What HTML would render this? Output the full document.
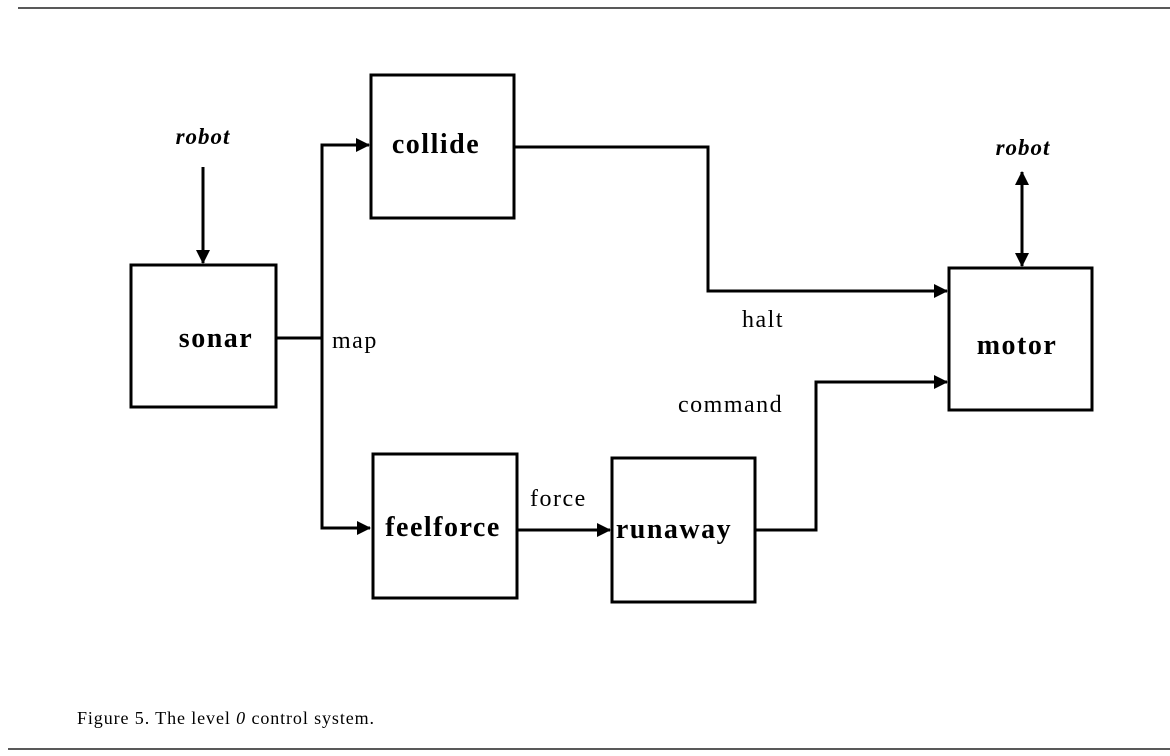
<!DOCTYPE html>
<html><head><style>
body{margin:0;background:#fff;}
svg{display:block}
text{font-family:"Liberation Serif",serif;fill:#000}
.b{font-weight:bold;font-size:28px;letter-spacing:1.5px}
.l{font-size:24px;letter-spacing:1.5px}
</style></head><body>
<svg width="1170" height="756" viewBox="0 0 1170 756">
<defs>
<marker id="a2" markerWidth="14" markerHeight="14" refX="13" refY="7" orient="auto-start-reverse" markerUnits="userSpaceOnUse" viewBox="0 0 14 14"><path d="M0,0L14,7L0,14z" fill="#000"/></marker></defs>
<line x1="18" y1="8" x2="1170" y2="8" stroke="#222" stroke-width="1.5"/>
<line x1="8" y1="749" x2="1170" y2="749" stroke="#222" stroke-width="1.5"/>
<g fill="none" stroke="#000" stroke-width="3">
<rect x="131" y="265" width="145" height="142"/>
<rect x="371" y="75" width="143" height="143"/>
<rect x="373" y="454" width="144" height="144"/>
<rect x="612" y="458" width="143" height="144"/>
<rect x="949" y="268" width="143" height="142"/>
<line x1="203" y1="167" x2="203" y2="263" marker-end="url(#a2)"/>
<polyline points="277,338 322,338"/>
<polyline points="369,145 322,145 322,528 370,528" marker-end="url(#a2)"/>
<line x1="322" y1="145" x2="369" y2="145" marker-end="url(#a2)"/>
<line x1="517" y1="530" x2="610" y2="530" marker-end="url(#a2)"/>
<polyline points="514,147 708,147 708,291 947,291" marker-end="url(#a2)"/>
<polyline points="755,530 816,530 816,382 947,382" marker-end="url(#a2)"/>
<line x1="1022" y1="172" x2="1022" y2="266" marker-start="url(#a2)" marker-end="url(#a2)"/>
</g>
<text x="203" y="144" text-anchor="middle" font-style="italic" font-weight="bold" font-size="23" letter-spacing="1">robot</text>
<text x="1023" y="155" text-anchor="middle" font-style="italic" font-weight="bold" font-size="23" letter-spacing="1">robot</text>
<text class="b" x="216" y="347" text-anchor="middle">sonar</text>
<text class="b" x="436" y="153" text-anchor="middle">collide</text>
<text class="b" x="443" y="536" text-anchor="middle">feelforce</text>
<text class="b" x="674" y="538" text-anchor="middle">runaway</text>
<text class="b" x="1017" y="354" text-anchor="middle">motor</text>
<text class="l" x="332" y="348">map</text>
<text class="l" x="742" y="327">halt</text>
<text class="l" x="678" y="412">command</text>
<text class="l" x="530" y="506">force</text>
<text x="77" y="724" font-size="18" letter-spacing="0.9">Figure 5. The level <tspan font-style="italic">0</tspan> control system.</text>
</svg>
</body></html>
